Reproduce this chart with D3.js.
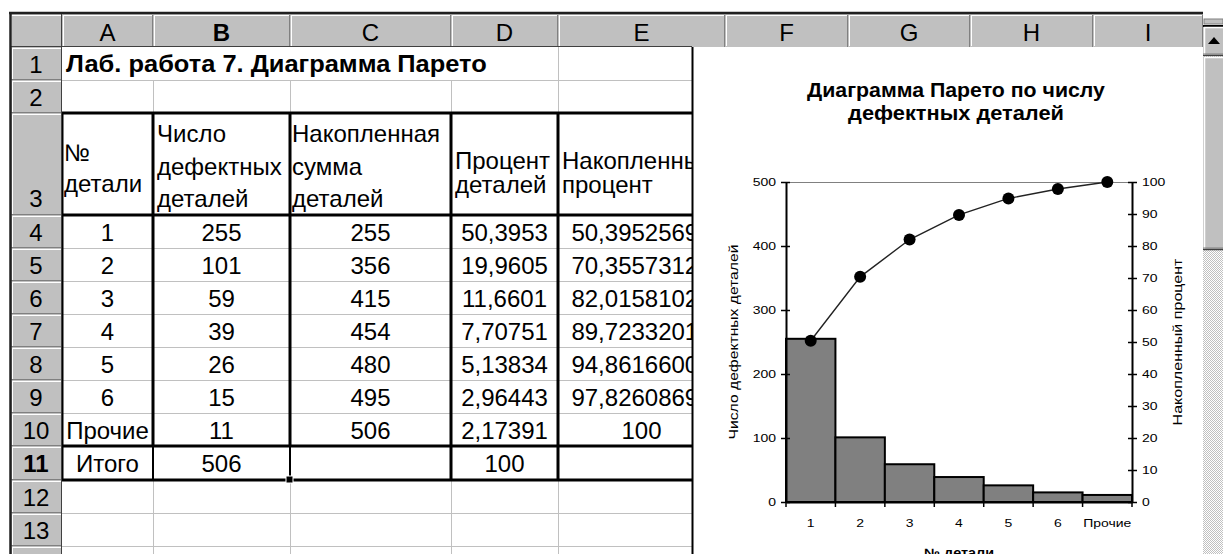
<!DOCTYPE html>
<html><head><meta charset="utf-8">
<script src="https://cdn.jsdelivr.net/npm/d3@7/dist/d3.min.js"></script>
<style>
html,body{margin:0;padding:0;background:#fff;overflow:hidden}
svg{display:block}
</style></head><body>
<svg id="c" width="1223" height="554"></svg>
<script>
// ---------------- data ----------------
const columnLetters = ["A","B","C","D","E","F","G","H","I"];
const rowNumbers = ["1","2","3","4","5","6","7","8","9","10","11","12","13","14"];
const sheetTitle = "Лаб. работа 7. Диаграмма Парето";
const headerA = ["№","детали"];
const headerB = ["Число","дефектных","деталей"];
const headerC = ["Накопленная","сумма","деталей"];
const headerD = ["Процент","деталей"];
const headerE = ["Накопленный","процент"];
const categories = ["1","2","3","4","5","6","Прочие"];
const defects = [255,101,59,39,26,15,11];
const cumulativeSum = [255,356,415,454,480,495,506];
const percentText = ["50,3953","19,9605","11,6601","7,70751","5,13834","2,96443","2,17391"];
const cumPercentText = ["50,39525692","70,35573123","82,01581028","89,72332016","94,86166008","97,82608696","100"];
const cumPercent = [50.3953,70.3557,82.0158,89.7233,94.8617,97.8261,100];
const totalLabel = "Итого";
const totalDefects = "506";
const totalPercent = "100";
const leftTicks = [0,100,200,300,400,500];
const rightTicks = [0,10,20,30,40,50,60,70,80,90,100];
const chartTitle = ["Диаграмма Парето по числу","дефектных деталей"];
const xTitle = "№ детали";
const yLeftTitle = "Число дефектных деталей";
const yRightTitle = "Накопленный процент";

// ---------------- layout ----------------
const FONT = '"Liberation Sans", Arial, sans-serif';
const W = 1223, H = 554;
const colEdges = [10,62,153,290,451,558,725,848,970,1093,1203];
const rowEdges = [47,80,113,215,248,281,314,347,380,413,446,480,513,546,579];
const cellL = 62, chartL = 692, chartR = 1203;
const svg = d3.select("#c");
svg.append("rect").attr("width",W).attr("height",H).attr("fill","#fff");

function stext(parent, str, x, y, o = {}) {
  const t = parent.append("text").text(str)
    .attr("font-family", FONT)
    .attr("font-size", o.size || 24)
    .attr("font-weight", o.weight || "normal")
    .attr("text-anchor", o.anchor || "start")
    .attr("fill", "#000");
  let sx = o.sx || 1;
  if (o.width) sx = o.width / t.node().getComputedTextLength();
  t.attr("transform", `translate(${x},${y}) rotate(${o.rotate || 0}) scale(${sx},1)`);
  return t;
}

// ---------------- gridlines ----------------
const grid = svg.append("g").attr("stroke","#c0c0c0").attr("stroke-width",1);
rowEdges.slice(1).forEach(y => grid.append("line")
  .attr("x1",cellL).attr("x2",chartL).attr("y1",y+0.5).attr("y2",y+0.5));
[153,290,451,558].forEach(x => grid.append("line")
  .attr("x1",x+0.5).attr("x2",x+0.5).attr("y1", x === 558 ? 47 : 80).attr("y2",H));

// ---------------- thick table borders ----------------
const thick = svg.append("g").attr("stroke","#000").attr("stroke-width",3);
[113,215,446,480].forEach(y => thick.append("line")
  .attr("x1",61).attr("x2",chartL).attr("y1",y).attr("y2",y));
[62,153,290,451,558].forEach(x => thick.append("line")
  .attr("x1",x).attr("x2",x).attr("y1",112).attr("y2",(x===153||x===290) ? 446 : 481));

// ---------------- cell text ----------------
const cells = svg.append("g");
stext(cells, sheetTitle, 66, 72, {weight:"bold", width:421});
const colCenter = i => (colEdges[i] + colEdges[i+1]) / 2;   // i: 1=A ...
headerA.forEach((s,i) => stext(cells, s, 64, [161,192][i]));
headerB.forEach((s,i) => stext(cells, s, 157, [142,175,207][i]));
headerC.forEach((s,i) => stext(cells, s, 292, [142,175,207][i]));
headerD.forEach((s,i) => stext(cells, s, 455, [169,193][i]));
headerE.forEach((s,i) => stext(cells, s, 562, [169,193][i]));
categories.forEach((c,i) => {
  const y = rowEdges[3+i] + 26;
  stext(cells, c, colCenter(1), y, {anchor:"middle"});
  stext(cells, String(defects[i]), colCenter(2), y, {anchor:"middle"});
  stext(cells, String(cumulativeSum[i]), colCenter(3), y, {anchor:"middle"});
  stext(cells, percentText[i], colCenter(4), y, {anchor:"middle"});
  stext(cells, cumPercentText[i], colCenter(5), y, {anchor:"middle"});
});
stext(cells, totalLabel, colCenter(1), rowEdges[10]+26, {anchor:"middle"});
stext(cells, totalDefects, colCenter(2), rowEdges[10]+26, {anchor:"middle"});
stext(cells, totalPercent, colCenter(4), rowEdges[10]+26, {anchor:"middle"});

// selection box on B11
cells.append("rect").attr("x",153).attr("y",446).attr("width",137).attr("height",34)
  .attr("fill","none").attr("stroke","#000").attr("stroke-width",2);
cells.append("rect").attr("x",286).attr("y",476).attr("width",7).attr("height",7)
  .attr("fill","#000").attr("stroke","#fff").attr("stroke-width",1);

// ---------------- column & row headers ----------------
const hdr = svg.append("g");
for (let i = 0; i < colEdges.length - 1; i++) {
  const x0 = colEdges[i], x1 = colEdges[i+1];
  hdr.append("rect").attr("x",x0).attr("y",13).attr("width",x1-x0).attr("height",34).attr("fill","#c0c0c0");
  hdr.append("line").attr("x1",x0+1.5).attr("x2",x0+1.5).attr("y1",15).attr("y2",46).attr("stroke","#fff");
  hdr.append("line").attr("x1",x0+1).attr("x2",x1-1).attr("y1",15.5).attr("y2",15.5).attr("stroke","#fff");
  hdr.append("line").attr("x1",x1-0.5).attr("x2",x1-0.5).attr("y1",15).attr("y2",47).attr("stroke","#808080");
  if (i > 0) stext(hdr, columnLetters[i-1], (x0+x1)/2, 41, {anchor:"middle", weight: columnLetters[i-1]==="B" ? "bold" : "normal"});
}
hdr.append("line").attr("x1",10).attr("x2",chartL).attr("y1",46.5).attr("y2",46.5).attr("stroke","#404040");
rowNumbers.forEach((r,i) => {
  const y0 = rowEdges[i], y1 = rowEdges[i+1];
  hdr.append("rect").attr("x",10).attr("y",y0).attr("width",52).attr("height",y1-y0).attr("fill","#c0c0c0");
  hdr.append("line").attr("x1",12).attr("x2",61).attr("y1",y0+1.5).attr("y2",y0+1.5).attr("stroke","#fff");
  hdr.append("line").attr("x1",12.5).attr("x2",12.5).attr("y1",y0+1).attr("y2",y1).attr("stroke","#fff");
  hdr.append("line").attr("x1",10).attr("x2",62).attr("y1",y1-0.5).attr("y2",y1-0.5).attr("stroke","#808080");
  const by = r === "3" ? 207 : y0 + 26;
  stext(hdr, r, 36, by, {anchor:"middle", weight: r==="11" ? "bold" : "normal"});
});
hdr.append("line").attr("x1",61.5).attr("x2",61.5).attr("y1",13).attr("y2",H).attr("stroke","#404040");
// outer frame
hdr.append("line").attr("x1",9).attr("x2",chartR).attr("y1",13).attr("y2",13).attr("stroke","#202020").attr("stroke-width",2.5);
hdr.append("line").attr("x1",10.5).attr("x2",10.5).attr("y1",13).attr("y2",H).attr("stroke","#202020").attr("stroke-width",2.5);

// ---------------- chart ----------------
const chart = svg.append("g");
chart.append("rect").attr("x",chartL).attr("y",47).attr("width",chartR-chartL).attr("height",H-47).attr("fill","#fff");
chart.append("line").attr("x1",chartL+0.5).attr("x2",chartL+0.5).attr("y1",47).attr("y2",H)
  .attr("stroke","#000").attr("stroke-width",2);

const plotL = 786, plotR = 1132, plotT = 182, plotB = 502;
const x = d3.scaleBand().domain(categories).range([plotL, plotR]).padding(0);
const yL = d3.scaleLinear().domain([0, 500]).range([plotB, plotT]);
const yR = d3.scaleLinear().domain([0, 100]).range([plotB, plotT]);
const SX = 1.27;

chartTitle.forEach((s,i) => stext(chart, s, 956, [97,120][i],
  {size:20, weight:"bold", anchor:"middle", width: i === 0 ? 298 : 216}));

// plot area top border
chart.append("line").attr("x1",plotL).attr("x2",plotR).attr("y1",yL(500)+0.5).attr("y2",yL(500)+0.5)
  .attr("stroke","#808080").attr("stroke-width",1);

// bars
chart.append("g").selectAll("rect").data(defects).join("rect")
  .attr("x",(d,i) => x(categories[i]))
  .attr("y",d => yL(d))
  .attr("width",x.bandwidth())
  .attr("height",d => yL(0) - yL(d))
  .attr("fill","#808080").attr("stroke","#000").attr("stroke-width",2);

// left axis
const gL = chart.append("g").attr("transform",`translate(${plotL},0)`)
  .call(d3.axisLeft(yL).tickValues(leftTicks).tickSizeOuter(0).tickFormat(d3.format("d")));
gL.select(".domain").attr("stroke","#000").attr("stroke-width",2);
gL.selectAll(".tick line").attr("x1",4).attr("x2",-5).attr("stroke","#000").attr("stroke-width",1.5);
gL.selectAll(".tick text").attr("x",null).attr("dy","0.35em")
  .attr("font-size",11).attr("font-family",FONT).attr("fill","#000")
  .attr("transform",`translate(-10,0) scale(${SX},1)`);

// right axis
const gR = chart.append("g").attr("transform",`translate(${plotR},0)`)
  .call(d3.axisRight(yR).tickValues(rightTicks).tickSizeOuter(0).tickFormat(d3.format("d")));
gR.select(".domain").attr("stroke","#000").attr("stroke-width",2);
gR.selectAll(".tick line").attr("x1",-4).attr("x2",5).attr("stroke","#000").attr("stroke-width",1.5);
gR.selectAll(".tick text").attr("x",null).attr("dy","0.35em")
  .attr("font-size",11).attr("font-family",FONT).attr("fill","#000")
  .attr("transform",`translate(10,0) scale(${SX},1)`);

// bottom axis (labels at category centres, ticks at category boundaries)
const gB = chart.append("g").attr("transform",`translate(0,${plotB})`)
  .call(d3.axisBottom(x).tickSize(0).tickPadding(17).tickSizeOuter(0));
gB.select(".domain").attr("stroke","#000").attr("stroke-width",2);
gB.selectAll(".tick text").attr("font-size",11).attr("font-family",FONT).attr("fill","#000")
  .attr("transform",`scale(${SX},1)`).attr("x",0);
const bounds = categories.map(c => x(c)).concat([x.range()[1]]);
gB.selectAll("line.bnd").data(bounds).join("line").attr("class","bnd")
  .attr("x1",d => d).attr("x2",d => d).attr("y1",0).attr("y2",5)
  .attr("stroke","#000").attr("stroke-width",1.5);

// cumulative line + markers
const line = d3.line().x((d,i) => x(categories[i]) + x.bandwidth()/2).y(d => yR(d));
chart.append("path").datum(cumPercent).attr("d",line)
  .attr("fill","none").attr("stroke","#222").attr("stroke-width",1.4);
chart.append("g").selectAll("circle").data(cumPercent).join("circle")
  .attr("cx",(d,i) => x(categories[i]) + x.bandwidth()/2)
  .attr("cy",d => yR(d)).attr("r",6).attr("fill","#000");

// axis titles
stext(chart, yLeftTitle, 738, (plotT+plotB)/2, {size:12, anchor:"middle", rotate:-90, width:195});
stext(chart, yRightTitle, 1182, (plotT+plotB)/2, {size:12, anchor:"middle", rotate:-90, width:167});
stext(chart, xTitle, (plotL+plotR)/2, 557, {size:12, anchor:"middle", weight:"bold", width:70});

// ---------------- scrollbar ----------------
const defs = svg.append("defs");
const pat = defs.append("pattern").attr("id","dither").attr("width",2).attr("height",2).attr("patternUnits","userSpaceOnUse");
pat.append("rect").attr("width",2).attr("height",2).attr("fill","#fff");
pat.append("rect").attr("width",1).attr("height",1).attr("fill","#c0c0c0");
pat.append("rect").attr("x",1).attr("y",1).attr("width",1).attr("height",1).attr("fill","#c0c0c0");
const sb = svg.append("g");
sb.append("rect").attr("x",1203).attr("y",13).attr("width",20).attr("height",H-13).attr("fill","url(#dither)");
sb.append("rect").attr("x",1203).attr("y",13).attr("width",20).attr("height",15).attr("fill","#fff");
sb.append("rect").attr("x",1204).attr("y",19).attr("width",19).attr("height",5).attr("fill","#c0c0c0").attr("stroke","#808080");
sb.append("line").attr("x1",1203).attr("x2",1223).attr("y1",26).attr("y2",26).attr("stroke","#000").attr("stroke-width",2);
function button(y0, y1) {
  sb.append("rect").attr("x",1203).attr("y",y0).attr("width",20).attr("height",y1-y0).attr("fill","#c0c0c0");
  sb.append("path").attr("d",`M1204.5,${y1-1}V${y0+0.5}H1223`).attr("fill","none").attr("stroke","#fff").attr("stroke-width",1.5);
  sb.append("line").attr("x1",1203).attr("x2",1223).attr("y1",y1-0.5).attr("y2",y1-0.5).attr("stroke","#404040").attr("stroke-width",1.5);
  sb.append("line").attr("x1",1203).attr("x2",1223).attr("y1",y1-2).attr("y2",y1-2).attr("stroke","#808080");
}
button(27, 56);
sb.append("path").attr("d","M1214,37 L1220,44 L1208,44 Z").attr("fill","#000");
button(57, 250);
</script>
</body></html>
